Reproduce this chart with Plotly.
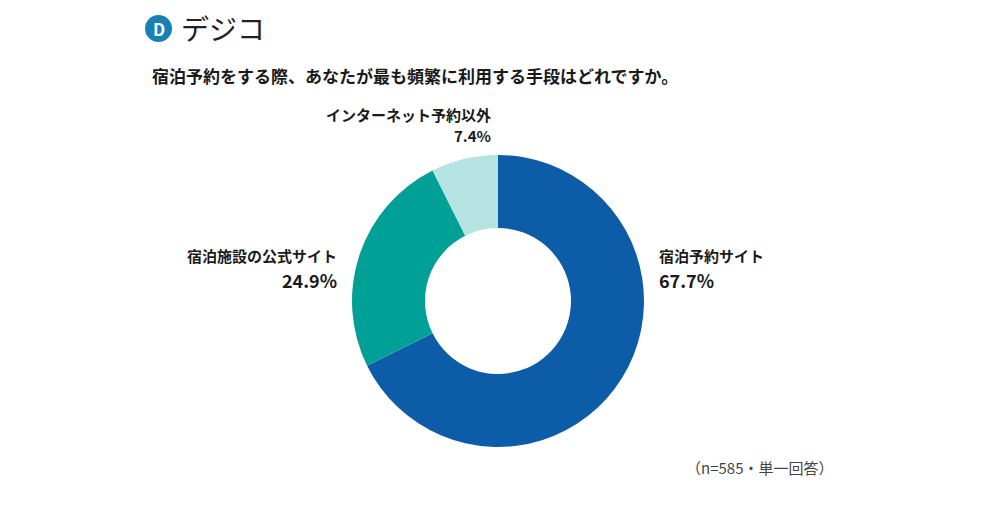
import plotly.graph_objects as go

labels = ["宿泊予約サイト", "宿泊施設の公式サイト", "インターネット予約以外"]
values = [67.7, 24.9, 7.4]
colors = ["#0d5ca8", "#00a096", "#b5e3e2"]

title = "宿泊予約をする際、あなたが最も頻繁に利用する手段はどれですか。"
note = "（n=585・単一回答）"

W, H = 1000, 524
OFF = 8  # page body margin shifts the figure
font = "Noto Sans CJK JP"


def px(x):
    return (x - OFF) / W


def py(y):
    return 1 - (y - OFF) / H


fig = go.Figure()
fig.add_trace(go.Pie(
    labels=labels,
    values=values,
    hole=0.5,
    sort=False,
    direction="clockwise",
    rotation=0,
    marker=dict(colors=colors, line=dict(width=0)),
    textinfo="none",
    hoverinfo="label+percent",
    showlegend=False,
    domain=dict(x=[px(352), px(644)], y=[py(447), py(155)]),
))

# slice labels: (x, y, anchor)
label_pos = [
    (657, 255, "left"),
    (339, 255, "right"),
    (493, 114, "right"),
]
for lab, val, (lx, ly, anc) in zip(labels, values, label_pos):
    big = ly > 200
    fig.add_annotation(x=px(lx), y=py(ly), xref="paper", yref="paper",
                       text="<b>%s</b>" % lab, showarrow=False, xanchor=anc,
                       yanchor="middle", font=dict(size=15, color="#1a1a1a", family=font))
    fig.add_annotation(x=px(lx), y=py(ly + (25 if big else 22)), xref="paper", yref="paper",
                       text="<b>%.1f%%</b>" % val, showarrow=False, xanchor=anc,
                       yanchor="middle",
                       font=dict(size=18 if big else 15, color="#1a1a1a", family=font))

# title
fig.add_annotation(x=px(150), y=py(75), xref="paper", yref="paper",
                   text="<b>%s</b>" % title, showarrow=False, xanchor="left",
                   yanchor="middle", font=dict(size=17, color="#1a1a1a", family=font))

# footnote
fig.add_annotation(x=px(684), y=py(467), xref="paper", yref="paper",
                   text=note, showarrow=False, xanchor="left", yanchor="middle",
                   font=dict(size=15, color="#444444", family=font))

# logo
fig.add_shape(type="circle", xref="paper", yref="paper",
              x0=px(145), x1=px(172), y0=py(42), y1=py(15),
              fillcolor="#1780b5", line=dict(width=0))
fig.add_annotation(x=px(158.5), y=py(28.5), xref="paper", yref="paper",
                   text="<b>D</b>", showarrow=False, xanchor="center", yanchor="middle",
                   font=dict(size=17, color="white", family=font))
fig.add_annotation(x=px(179), y=py(28), xref="paper", yref="paper",
                   text="デジコ", showarrow=False, xanchor="left", yanchor="middle",
                   font=dict(size=28, color="#222222", family=font))

fig.update_layout(
    width=W, height=H,
    margin=dict(l=0, r=0, t=0, b=0),
    paper_bgcolor="white",
    plot_bgcolor="white",
    font=dict(family=font),
)

fig.write_html("out.html")
